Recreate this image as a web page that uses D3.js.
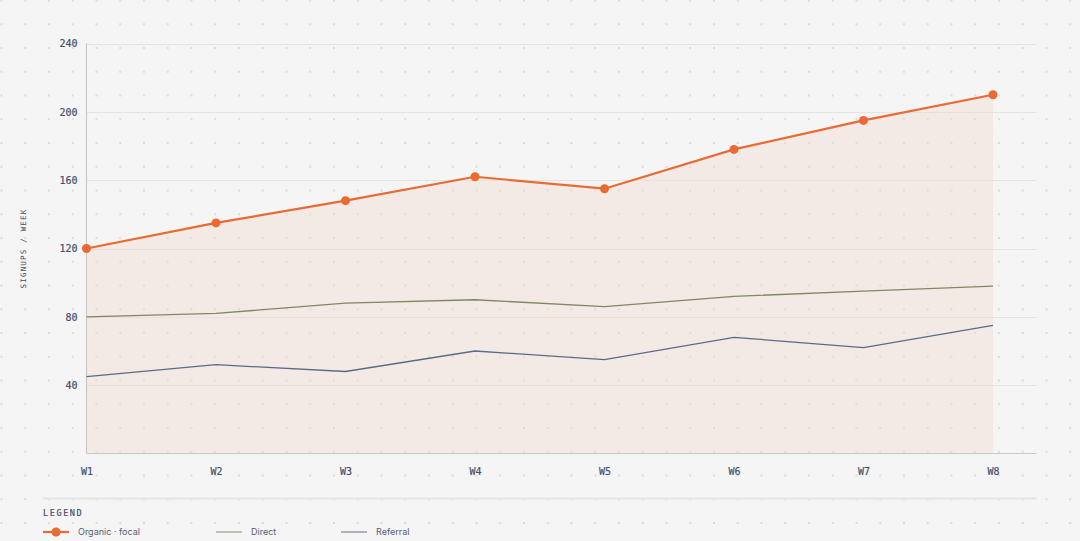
<!DOCTYPE html>
<html>
<head>
<meta charset="utf-8">
<script src="https://cdn.jsdelivr.net/npm/d3@7"></script>
<style>
  html, body { margin: 0; padding: 0; }
  body {
    width: 1080px; height: 541px; overflow: hidden;
    background-color: #f5f5f5;
    background-image: radial-gradient(circle, #dcdcdc 0.9px, transparent 1.2px);
    background-size: 23.75px 23.75px;
    background-position: -10.4px -11.4px;
  }
  svg { display: block; }
  .mono { font-family: "DejaVu Sans Mono", "Liberation Mono", monospace; }
</style>
</head>
<body>
<svg id="chart" width="1080" height="541"></svg>
<script>
// data
const weeks = ["W1", "W2", "W3", "W4", "W5", "W6", "W7", "W8"];
const organic = [120, 135, 148, 162, 155, 178, 195, 210];
const direct = [80, 82, 88, 90, 86, 92, 95, 98];
const referral = [45, 52, 48, 60, 55, 68, 62, 75];
const yTicks = [40, 80, 120, 160, 200, 240];
const seriesNames = ["Organic · focal", "Direct", "Referral"];

const colors = { organic: "#ea6a33", direct: "#7d8a5f", referral: "#5c6a88" };
const inkColor = "#465069";

const plot = { left: 86.5, right: 1036.5, top: 43.5, bottom: 453.5 };

const svg = d3.select("#chart");

const x = d3.scalePoint()
    .domain(weeks)
    .range([plot.left, 993]);

const y = d3.scaleLinear()
    .domain([0, 240])
    .range([plot.bottom, plot.top]);

// gridlines
svg.append("g")
    .selectAll("line")
    .data(yTicks)
    .join("line")
    .attr("x1", plot.left)
    .attr("x2", plot.right)
    .attr("y1", d => Math.round(y(d)) + 0.5)
    .attr("y2", d => Math.round(y(d)) + 0.5)
    .attr("stroke", "#e4e4e4")
    .attr("stroke-width", 1);

// focal area under organic
const area = d3.area()
    .x((d, i) => x(weeks[i]))
    .y0(y(0))
    .y1(d => y(d));

svg.append("path")
    .datum(organic)
    .attr("d", area)
    .attr("fill", "#f0d9d0")
    .attr("fill-opacity", 0.4);

// axes
const yAxis = d3.axisLeft(y)
    .tickValues(yTicks)
    .tickSize(0)
    .tickPadding(9);

const gy = svg.append("g")
    .attr("transform", `translate(${plot.left},0)`)
    .call(yAxis);
gy.select(".domain").attr("stroke", "#c9c9c9").attr("stroke-width", 1.2)
    .attr("d", `M0,${plot.top}V${plot.bottom}`);
gy.selectAll("text")
    .attr("class", "mono")
    .attr("font-size", 10)
    .attr("fill", inkColor)
    .attr("stroke", inkColor)
    .attr("stroke-width", 0.2);

const xAxis = d3.axisBottom(x)
    .tickSize(0)
    .tickPadding(14);

const gx = svg.append("g")
    .attr("transform", `translate(0,${plot.bottom})`)
    .call(xAxis);
gx.select(".domain").attr("stroke", "#c9c9c9").attr("stroke-width", 1.2)
    .attr("d", `M${plot.left},0H${plot.right}`);
gx.selectAll("text")
    .attr("class", "mono")
    .attr("font-size", 10)
    .attr("fill", inkColor)
    .attr("stroke", inkColor)
    .attr("stroke-width", 0.2);

// y axis title
svg.append("text")
    .attr("class", "mono")
    .attr("transform", `translate(26,${(plot.top + plot.bottom) / 2}) rotate(-90)`)
    .attr("text-anchor", "middle")
    .attr("font-size", 7.5)
    .attr("letter-spacing", 1.2)
    .attr("fill", inkColor)
    .text("SIGNUPS / WEEK");

// lines
const line = d3.line()
    .x((d, i) => x(weeks[i]))
    .y(d => y(d));

svg.append("path")
    .datum(referral)
    .attr("d", line)
    .attr("fill", "none")
    .attr("stroke", colors.referral)
    .attr("stroke-width", 1.3);

svg.append("path")
    .datum(direct)
    .attr("d", line)
    .attr("fill", "none")
    .attr("stroke", colors.direct)
    .attr("stroke-width", 1.3);

svg.append("path")
    .datum(organic)
    .attr("d", line)
    .attr("fill", "none")
    .attr("stroke", colors.organic)
    .attr("stroke-width", 2.2);

svg.append("g")
    .selectAll("circle")
    .data(organic)
    .join("circle")
    .attr("cx", (d, i) => x(weeks[i]))
    .attr("cy", d => y(d))
    .attr("r", 4.5)
    .attr("fill", colors.organic);

// legend
svg.append("line")
    .attr("x1", 43).attr("x2", plot.right)
    .attr("y1", 498.5).attr("y2", 498.5)
    .attr("stroke", "#e4e4e4")
    .attr("stroke-width", 2);

svg.append("text")
    .attr("class", "mono")
    .attr("x", 43)
    .attr("y", 516)
    .attr("font-size", 8.5)
    .attr("letter-spacing", 1.6)
    .attr("fill", inkColor)
    .attr("stroke", inkColor)
    .attr("stroke-width", 0.2)
    .text("LEGEND");

const legendItems = [
    { name: seriesNames[0], color: colors.organic, x: 43, width: 2.2, dot: true, op: 1 },
    { name: seriesNames[1], color: colors.direct, x: 216, width: 1.3, dot: false, op: 0.75 },
    { name: seriesNames[2], color: colors.referral, x: 341, width: 1.3, dot: false, op: 0.75 }
];

const lg = svg.append("g")
    .selectAll("g")
    .data(legendItems)
    .join("g")
    .attr("transform", d => `translate(${d.x},532)`);

lg.append("line")
    .attr("x1", 0).attr("x2", 26)
    .attr("stroke", d => d.color)
    .attr("stroke-opacity", d => d.op)
    .attr("stroke-width", d => d.width);

lg.filter(d => d.dot)
    .append("circle")
    .attr("cx", 13)
    .attr("r", 4.5)
    .attr("fill", d => d.color);

lg.append("text")
    .attr("x", 35)
    .attr("dy", "0.35em")
    .attr("font-family", "Inter, 'Noto Sans', sans-serif")
    .attr("font-size", 9)
    .attr("fill", "#555d75")
    .text(d => d.name);
</script>
</body>
</html>
